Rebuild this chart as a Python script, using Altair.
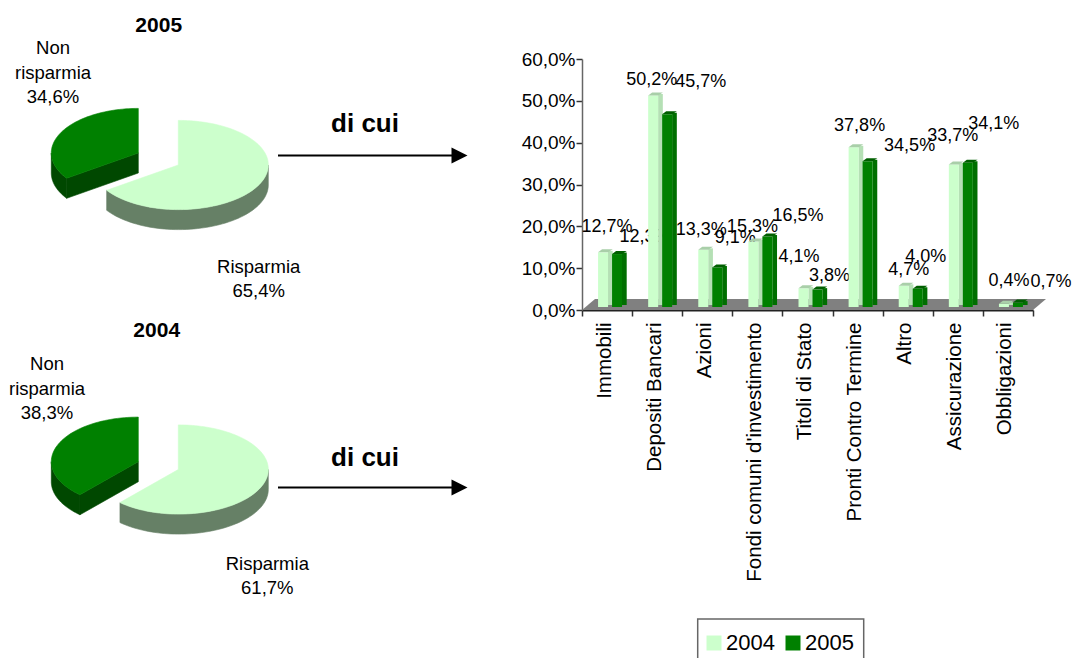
import math
import altair as alt
import pandas as pd

FONT = "Liberation Sans"

# ---------- values ----------
categories = ["Immobili", "Depositi Bancari", "Azioni", "Fondi comuni d'investimento",
              "Titoli di Stato", "Pronti Contro Termine", "Altro", "Assicurazione", "Obbligazioni"]
values_2004 = [12.7, 50.2, 13.3, 15.3, 4.1, 37.8, 4.7, 33.7, 0.4]
values_2005 = [12.3, 45.7, 9.1, 16.5, 3.8, 34.5, 4.0, 34.1, 0.7]
y_ticks = [0, 10, 20, 30, 40, 50, 60]
saving_2005 = 65.4
saving_2004 = 61.7

# label nudges (dx, dy) relative to category centre / bar value
nudge_2004 = [(0, -30), (-5.5, -20), (-6, -24), (-5, -19), (-8.5, -36), (2, -26), (1, -20), (-5, -33), (1, -27)]
nudge_2005 = [(38, -22), (43.5, -37), (28, -34), (40.6, -25), (22, -18), (52, -20), (18, -36), (36, -43), (43, -25)]

LIGHT, LIGHT_SIDE, LIGHT_RIM, LIGHT_CAP = "#CCFFCC", "#B5E0B5", "#668066", "#A9CFA9"
DARK, DARK_SIDE, DARK_RIM, DARK_CAP = "#008000", "#006F00", "#004800", "#005F00"

# ---------- left panel: 3-D pies, in page pixels ----------
LEFT_W, LEFT_H = 514, 651
XS = alt.Scale(domain=[8, 8 + LEFT_W], range=[0, LEFT_W], nice=False, zero=False)
YS = alt.Scale(domain=[8, 8 + LEFT_H], range=[0, LEFT_H], nice=False, zero=False)
X = alt.X("x:Q", axis=None, scale=XS)
Y = alt.Y("y:Q", axis=None, scale=YS)
RX_RIGHT, RX_LEFT, RY, DEPTH = 90, 87, 44.6, 20


def arc_points(cx, cy, a0, a1, n=60):
    pts = []
    for k in range(n + 1):
        a = math.radians(a0 + (a1 - a0) * k / n)
        s = math.sin(a)
        pts.append((cx + (RX_RIGHT if s > 0 else RX_LEFT) * s, cy - RY * math.cos(a)))
    return pts


def polygon(points, colour):
    pts = list(points) + [points[0]]
    df = pd.DataFrame({"x": [p[0] for p in pts], "y": [p[1] for p in pts], "i": range(len(pts))})
    return alt.Chart(df).mark_line(fill=colour, stroke=colour, strokeWidth=0.6, interpolate="linear").encode(
        x=X, y=Y, order="i:Q")


def pie(share, lx, ly, dx, dy):
    cut = share / 100 * 360
    layers = []
    # detached dark slice
    cx, cy = lx + dx, ly + dy
    rim = arc_points(cx, cy, cut, 270)
    layers.append(polygon(rim + [(px, py + DEPTH) for px, py in reversed(rim)], DARK_RIM))
    corner = arc_points(cx, cy, cut, cut, 1)[0]
    layers.append(polygon([(cx, cy), corner, (corner[0], corner[1] + DEPTH), (cx, cy + DEPTH)], DARK_RIM))
    layers.append(polygon([(cx, cy)] + arc_points(cx, cy, cut, 360), DARK))
    # light slice
    rim = arc_points(lx, ly, 90, cut)
    layers.append(polygon(rim + [(px, py + DEPTH) for px, py in reversed(rim)], LIGHT_RIM))
    layers.append(polygon([(lx, ly)] + arc_points(lx, ly, 0, cut, 120), LIGHT))
    return layers


texts = pd.DataFrame([
    ("2005", 158.7, 25.7, True, 21), ("2004", 156.7, 331, True, 21),
    ("di cui", 365, 124, True, 26), ("di cui", 365, 458.3, True, 26),
    ("Non", 53, 48.3, False, 18.5), ("risparmia", 53, 72.7, False, 18.5), ("34,6%", 53, 96.7, False, 18.5),
    ("Risparmia", 258.7, 266.7, False, 18.5), ("65,4%", 258.7, 290.7, False, 18.5),
    ("Non", 47, 364, False, 18.5), ("risparmia", 47, 389, False, 18.5), ("38,3%", 47, 412.7, False, 18.5),
    ("Risparmia", 267.3, 564.3, False, 18.5), ("61,7%", 267.3, 588.3, False, 18.5),
], columns=["t", "x", "y", "b", "s"])

text_layers = []
for (b, s), g in texts.groupby(["b", "s"]):
    text_layers.append(alt.Chart(g).mark_text(font=FONT, fontSize=s, fontWeight="bold" if b else "normal",
                                              color="black", baseline="middle", align="center")
                       .encode(x=X, y=Y, text="t:N"))

arrows = pd.DataFrame({"x": [278, 278], "x2": [453, 453], "y": [155.5, 487.5], "tip": [459.5, 459.5]})
arrow_line = alt.Chart(arrows).mark_rule(color="black", strokeWidth=2).encode(x=X, x2="x2:Q", y=Y)
arrow_head = alt.Chart(arrows).mark_point(shape="M-8,-8L8,0L-8,8Z", size=4, filled=True, color="black", opacity=1).encode(
    x=alt.X("tip:Q", axis=None, scale=XS), y=Y)

left = alt.layer(*pie(saving_2005, 178.3, 165, -40, -12), *pie(saving_2004, 178.3, 469.5, -40, -7.8),
                 arrow_line, arrow_head, *text_layers).properties(width=LEFT_W, height=LEFT_H)

# ---------- right panel: bars ----------
PLOT_W, RIGHT_W, RIGHT_H = 451, 480, 302
rows = pd.DataFrame({"cat": categories * 2,
                     "v": values_2004 + values_2005,
                     "series": ["2004"] * 9 + ["2005"] * 9,
                     "dx": [n[0] for n in nudge_2004 + nudge_2005],
                     "dy": [n[1] for n in nudge_2004 + nudge_2005]})
rows["label"] = rows["v"].map(lambda v: f"{v:.1f}".replace(".", ",") + "%")
d04 = rows[rows.series == "2004"]
d05 = rows[rows.series == "2005"]

BX = alt.X("cat:N", sort=categories, title=None, scale=alt.Scale(range=[0, PLOT_W], paddingInner=0, paddingOuter=0),
           axis=alt.Axis(labelAngle=270, labelFont=FONT, labelFontSize=20.5, labelColor="black", labelLimit=400,
                         labelOverlap=False, labelPadding=6, labelOffset=-3, tickBand="extent", tickSize=6,
                         tickWidth=1.5, tickColor="#333333", domainColor="#222222", domainWidth=2, grid=False))
BY = alt.Y("v:Q", title=None, scale=alt.Scale(domain=[0, 60], range=[RIGHT_H, 51], nice=False),
           axis=alt.Axis(values=y_ticks, labelExpr="replace(format(datum.value,'.1f'),'.',',')+'%'",
                         labelFont=FONT, labelFontSize=19, labelColor="black", labelPadding=1, tickSize=6,
                         tickWidth=1.5, tickColor="#333333", domainColor="#666666", domainWidth=1.5, grid=False,
                         minExtent=60, maxExtent=60))
COLOR = alt.Color("series:N", scale=alt.Scale(domain=["2004", "2005"], range=[LIGHT, DARK]),
                  legend=alt.Legend(title=None, orient="none", legendX=691, legendY=620, direction="horizontal",
                                    columns=2, symbolType="square", symbolSize=225, symbolStrokeWidth=0,
                                    symbolOpacity=1, labelFont=FONT, labelFontSize=22, labelColor="black",
                                    labelOffset=1, columnPadding=7, padding=4))

floor = alt.Chart(pd.DataFrame({"v": [0]})).mark_point(
    shape=f"M0,0L{PLOT_W},0L{PLOT_W + 13},-11L13,-11Z", size=4, filled=True, color="#808080", opacity=1
).encode(x=alt.value(0), y=BY)

legend_box = alt.Chart(pd.DataFrame({"v": [0]})).mark_point(
    shape="M0,39L0,0L166,0L166,39", size=4, filled=False, stroke="#666666", strokeWidth=1.5, opacity=1
).encode(x=alt.value(115.7), y=alt.value(611))


def bar_group(df, front_off, side_off, side_col, cap_col):
    side = alt.Chart(df).mark_bar(size=4.7, color=side_col, xOffset=side_off, yOffset=-6, y2Offset=-5).encode(
        x=BX, y=BY, y2=alt.datum(0))
    front = alt.Chart(df).mark_bar(size=10, xOffset=front_off, yOffset=-4.5, y2Offset=-3).encode(
        x=BX, y=BY, y2=alt.datum(0), color=COLOR)
    cap = alt.Chart(df).mark_point(shape="M-5,0L5,0L9.7,-3L-1,-3Z", size=4, filled=True, color=cap_col, opacity=1,
                                   xOffset=front_off, yOffset=-4.5).encode(x=BX, y=BY)
    return [side, front, cap]


labels = [alt.Chart(pd.DataFrame([r])).mark_text(font=FONT, fontSize=18, color="black", baseline="middle",
                                                 dx=r["dx"], dy=r["dy"]).encode(x=BX, y=BY, text="label:N")
          for r in rows.to_dict("records")]

right = alt.layer(floor, *labels, *bar_group(d04, -4, 3.3, LIGHT_SIDE, LIGHT_CAP),
                  *bar_group(d05, 10, 17.3, DARK_SIDE, DARK_CAP), legend_box).properties(width=RIGHT_W, height=RIGHT_H)

chart = alt.hconcat(left, right, spacing=60, bounds="flush").properties(padding=0, background="white").configure_view(stroke=None)
chart.save("out.html", embed_options={"renderer": "svg", "actions": False})
